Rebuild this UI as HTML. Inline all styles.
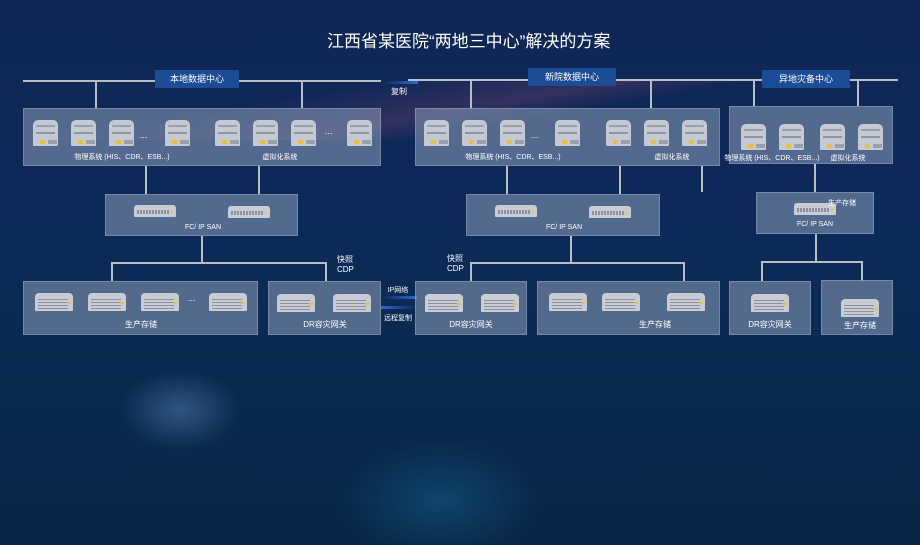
<!DOCTYPE html>
<html><head><meta charset="utf-8"><style>
*{margin:0;padding:0;box-sizing:border-box}
body{width:920px;height:545px;overflow:hidden;position:relative;font-family:"Liberation Sans","Noto Sans CJK SC",sans-serif;color:#fff;
background:radial-gradient(ellipse 60px 40px at 180px 410px,rgba(90,130,180,.5),transparent),radial-gradient(ellipse 100px 60px at 440px 500px,rgba(20,100,140,.5),transparent),linear-gradient(180deg,#0f2656 0%,#0d2a5a 40%,#0a2a52 60%,#082646 100%)}
.a{position:absolute}
.box{position:absolute;background:rgba(128,146,176,.62);border:1px solid rgba(150,165,195,.5)}
.ln{position:absolute;background:#b8bdc6}
.lab{position:absolute;background:#1b4c95;font-size:9px;text-align:center;line-height:18px;color:#fff}
.t{position:absolute;font-size:7px;white-space:nowrap;transform:translateX(-50%)}
.t2{position:absolute;font-size:8px;white-space:nowrap;transform:translateX(-50%)}
.tw{position:absolute;width:25px;height:26px;background:#c5c9d2;border-radius:5px 5px 1px 1px}
.tw:before{content:"";position:absolute;left:3px;top:5px;width:19px;height:2px;background:#9aa0ac;box-shadow:0 7px 0 #8e94a0}
.tw:after{content:"";position:absolute;left:7px;top:20px;width:5px;height:4px;background:#e8c040;box-shadow:8px 0 0 #9aa0ac,12px 0 0 #9aa0ac}
.st{position:absolute;width:38px;height:18px;background:#c9ccd5;border-radius:4px 4px 1px 1px}
.st:before{content:"";position:absolute;left:3px;top:6px;width:30px;height:1px;background:#8b909c;box-shadow:0 3px 0 #8b909c,0 6px 0 #8b909c,0 9px 0 #8b909c}
.st:after{content:"";position:absolute;right:2px;top:9px;width:4px;height:2px;background:#e8c040}
.sw{position:absolute;width:42px;height:12px;background:#c9ccd5;border-radius:3px 3px 1px 1px}
.sw:before{content:"";position:absolute;left:3px;top:5px;width:32px;height:4px;background:repeating-linear-gradient(90deg,#8b909c 0 2px,#c9ccd5 2px 3px)}
.sw:after{content:"";position:absolute;right:3px;top:6px;width:2px;height:2px;background:#e8c040}
.dots{position:absolute;font-size:9px;color:#fff}
</style></head><body>
<div class="a" style="left:0;top:80px;width:920px;height:60px;background:linear-gradient(170deg,transparent 30%,rgba(200,80,120,.25) 50%,transparent 60%);opacity:.8"></div>
<div class="a" style="left:327px;top:27px;font-size:17px;white-space:nowrap">江西省某医院“两地三中心”解决的方案</div>

<!-- top lines -->
<div class="ln" style="left:23px;top:80px;width:358px;height:2px"></div>
<div class="ln" style="left:408px;top:79px;width:490px;height:2px"></div>
<div class="lab" style="left:155px;top:70px;width:84px">本地数据中心</div>
<div class="lab" style="left:528px;top:68px;width:88px">新院数据中心</div>
<div class="lab" style="left:762px;top:70px;width:88px">异地灾备中心</div>
<div class="a" style="left:383px;top:81px;width:35px;height:3px;background:linear-gradient(90deg,transparent,#2f6ad0)"></div>
<div class="t2" style="left:399px;top:86px">复制</div>
<div class="ln" style="left:95px;top:80px;width:2px;height:28px"></div>
<div class="ln" style="left:301px;top:80px;width:2px;height:28px"></div>
<div class="ln" style="left:470px;top:79px;width:2px;height:29px"></div>
<div class="ln" style="left:650px;top:79px;width:2px;height:29px"></div>
<div class="ln" style="left:753px;top:79px;width:2px;height:27px"></div>
<div class="ln" style="left:857px;top:79px;width:2px;height:27px"></div>

<!-- server boxes -->
<div class="box" style="left:23px;top:108px;width:358px;height:58px"></div>
<div class="box" style="left:415px;top:108px;width:305px;height:58px"></div>
<div class="box" style="left:729px;top:106px;width:164px;height:58px"></div>
<div class="tw" style="left:33px;top:120px"></div><div class="tw" style="left:71px;top:120px"></div><div class="tw" style="left:109px;top:120px"></div><div class="dots" style="left:140px;top:130px">...</div><div class="tw" style="left:165px;top:120px"></div>
<div class="tw" style="left:215px;top:120px"></div><div class="tw" style="left:253px;top:120px"></div><div class="tw" style="left:291px;top:120px"></div><div class="dots" style="left:325px;top:126px">...</div><div class="tw" style="left:347px;top:120px"></div>
<div class="t" style="left:122px;top:152px">物理系统 (HIS、CDR、ESB...)</div><div class="t" style="left:280px;top:152px">虚拟化系统</div>
<div class="tw" style="left:424px;top:120px"></div><div class="tw" style="left:462px;top:120px"></div><div class="tw" style="left:500px;top:120px"></div><div class="dots" style="left:531px;top:130px">...</div><div class="tw" style="left:555px;top:120px"></div>
<div class="tw" style="left:606px;top:120px"></div><div class="tw" style="left:644px;top:120px"></div><div class="tw" style="left:682px;top:120px"></div>
<div class="t" style="left:513px;top:152px">物理系统 (HIS、CDR、ESB...)</div><div class="t" style="left:672px;top:152px">虚拟化系统</div>
<div class="tw" style="left:741px;top:124px"></div><div class="tw" style="left:779px;top:124px"></div><div class="tw" style="left:820px;top:124px"></div><div class="tw" style="left:858px;top:124px"></div>
<div class="t" style="left:772px;top:153px">物理系统 (HIS、CDR、ESB...)</div><div class="t" style="left:848px;top:153px">虚拟化系统</div>

<!-- down lines -->
<div class="ln" style="left:145px;top:166px;width:2px;height:28px"></div>
<div class="ln" style="left:258px;top:166px;width:2px;height:28px"></div>
<div class="ln" style="left:506px;top:166px;width:2px;height:28px"></div>
<div class="ln" style="left:619px;top:166px;width:2px;height:28px"></div>
<div class="ln" style="left:701px;top:166px;width:2px;height:26px"></div>
<div class="ln" style="left:814px;top:164px;width:2px;height:28px"></div>

<!-- SAN -->
<div class="box" style="left:105px;top:194px;width:193px;height:42px"></div>
<div class="sw" style="left:134px;top:205px"></div><div class="sw" style="left:228px;top:206px"></div>
<div class="t" style="left:203px;top:224px">FC/ IP SAN</div>
<div class="box" style="left:466px;top:194px;width:194px;height:42px"></div>
<div class="sw" style="left:495px;top:205px"></div><div class="sw" style="left:589px;top:206px"></div>
<div class="t" style="left:564px;top:224px">FC/ IP SAN</div>
<div class="box" style="left:756px;top:192px;width:118px;height:42px"></div>
<div class="sw" style="left:794px;top:203px"></div>
<div class="t" style="left:842px;top:198px">生产存储</div>
<div class="t" style="left:815px;top:221px">FC/ IP SAN</div>

<div class="ln" style="left:201px;top:236px;width:2px;height:27px"></div>
<div class="ln" style="left:111px;top:262px;width:215px;height:2px"></div>
<div class="ln" style="left:111px;top:262px;width:2px;height:19px"></div>
<div class="ln" style="left:325px;top:262px;width:2px;height:19px"></div>
<div class="ln" style="left:570px;top:236px;width:2px;height:27px"></div>
<div class="ln" style="left:470px;top:262px;width:215px;height:2px"></div>
<div class="ln" style="left:470px;top:262px;width:2px;height:19px"></div>
<div class="ln" style="left:683px;top:262px;width:2px;height:19px"></div>
<div class="ln" style="left:815px;top:234px;width:2px;height:28px"></div>
<div class="ln" style="left:761px;top:261px;width:102px;height:2px"></div>
<div class="ln" style="left:761px;top:261px;width:2px;height:20px"></div>
<div class="ln" style="left:861px;top:261px;width:2px;height:20px"></div>

<div class="a" style="left:337px;top:255px;font-size:8px;line-height:10px">快照<br>CDP</div>
<div class="a" style="left:447px;top:254px;font-size:8px;line-height:10px">快照<br>CDP</div>

<!-- bottom boxes -->
<div class="box" style="left:23px;top:281px;width:235px;height:54px"></div>
<div class="st" style="left:35px;top:293px"></div><div class="st" style="left:88px;top:293px"></div><div class="st" style="left:141px;top:293px"></div><div class="dots" style="left:188px;top:293px">...</div><div class="st" style="left:209px;top:293px"></div>
<div class="t2" style="left:141px;top:319px">生产存储</div>
<div class="box" style="left:268px;top:281px;width:113px;height:54px"></div>
<div class="st" style="left:277px;top:294px"></div><div class="st" style="left:333px;top:294px"></div>
<div class="t2" style="left:325px;top:319px">DR容灾网关</div>

<div class="t" style="left:398px;top:285px">IP网络</div>
<div class="a" style="left:381px;top:296px;width:36px;height:3px;background:linear-gradient(90deg,transparent,#2f6ad0)"></div>
<div class="a" style="left:381px;top:306px;width:36px;height:3px;background:linear-gradient(90deg,#2f6ad0,transparent)"></div>
<div class="t" style="left:398px;top:313px">远程复制</div>

<div class="box" style="left:415px;top:281px;width:112px;height:54px"></div>
<div class="st" style="left:425px;top:294px"></div><div class="st" style="left:481px;top:294px"></div>
<div class="t2" style="left:471px;top:319px">DR容灾网关</div>
<div class="box" style="left:537px;top:281px;width:183px;height:54px"></div>
<div class="st" style="left:549px;top:293px"></div><div class="st" style="left:602px;top:293px"></div><div class="st" style="left:667px;top:293px"></div>
<div class="t2" style="left:655px;top:319px">生产存储</div>
<div class="box" style="left:729px;top:281px;width:82px;height:54px"></div>
<div class="st" style="left:751px;top:294px"></div>
<div class="t2" style="left:770px;top:319px">DR容灾网关</div>
<div class="box" style="left:821px;top:280px;width:72px;height:55px"></div>
<div class="st" style="left:841px;top:299px"></div>
<div class="t2" style="left:860px;top:320px">生产存储</div>
</body></html>
